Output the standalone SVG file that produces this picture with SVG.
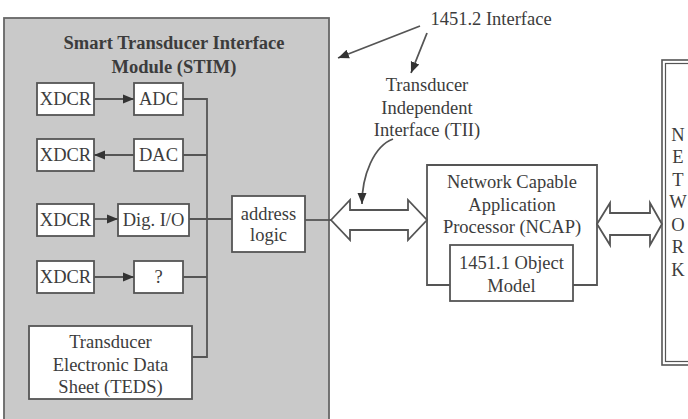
<svg xmlns="http://www.w3.org/2000/svg" width="688" height="419" viewBox="0 0 688 419">
<defs>
<style>
text{font-family:"Liberation Serif","Times New Roman",serif;font-size:18.5px;fill:#3c3c3c;text-anchor:middle}
.b{font-weight:bold}
.box{fill:#fff;stroke:#555;stroke-width:1.8}
.ln{fill:none;stroke:#555;stroke-width:1.8}
.dbl{fill:#fff;stroke:#555;stroke-width:1.8;stroke-linejoin:miter}
</style>
<marker id="ah" markerUnits="userSpaceOnUse" markerWidth="12" markerHeight="12" viewBox="0 0 12 12" refX="11" refY="6" orient="auto">
<path d="M0,1.5 L11,6 L0,10.5 Z" fill="#333"/>
</marker>
</defs>
<rect width="688" height="419" fill="#fff"/>
<g id="stim">
<rect x="4" y="18" width="325" height="410" fill="#c9c9c9" stroke="#666" stroke-width="1.8"/>
<text class="b" x="174" y="49" font-size="19">Smart Transducer Interface</text>
<text class="b" x="174" y="73" font-size="19">Module (STIM)</text>
</g>
<g id="xdcr1"><rect class="box" x="37" y="83" width="57" height="32"/><text x="65.5" y="105">XDCR</text></g>
<g id="adc"><rect class="box" x="134" y="83" width="49" height="32"/><text x="158.5" y="105">ADC</text></g>
<g id="xdcr2"><rect class="box" x="37" y="139" width="57" height="32"/><text x="65.5" y="161">XDCR</text></g>
<g id="dac"><rect class="box" x="134" y="139" width="49" height="32"/><text x="158.5" y="161">DAC</text></g>
<g id="xdcr3"><rect class="box" x="37" y="204" width="57" height="32"/><text x="65.5" y="226">XDCR</text></g>
<g id="digio"><rect class="box" x="118" y="204" width="71" height="32"/><text x="153.5" y="226">Dig. I/O</text></g>
<g id="xdcr4"><rect class="box" x="37" y="261" width="57" height="32"/><text x="65.5" y="283">XDCR</text></g>
<g id="unknown"><rect class="box" x="134" y="261" width="49" height="32"/><text x="158.5" y="283">?</text></g>
<g id="teds"><rect class="box" x="29" y="326" width="163" height="73"/>
<text x="110.5" y="348">Transducer</text><text x="110.5" y="371">Electronic Data</text><text x="110.5" y="393">Sheet (TEDS)</text></g>
<g id="address"><rect class="box" x="232" y="196" width="73" height="56"/>
<text x="268.5" y="220">address</text><text x="268.5" y="241">logic</text></g>
<g id="ncap">
<path class="ln" d="M450,285 H427 V165 H597 V285 H573" fill="#fff"/>
<text x="512" y="188">Network Capable</text>
<text x="512" y="211">Application</text>
<text x="512" y="233">Processor (NCAP)</text>
</g>
<g id="objmodel"><rect class="box" x="450" y="245" width="123" height="56"/>
<text x="511.5" y="269">1451.1 Object</text><text x="511.5" y="292">Model</text></g>
<g id="network">
<rect x="662" y="60" width="40" height="305" fill="#fff" stroke="#555" stroke-width="1.6"/>
<rect x="665.5" y="63.5" width="40" height="298" fill="none" stroke="#555" stroke-width="1.2"/>
<text x="678" y="141">N</text><text x="678" y="163">E</text><text x="678" y="186">T</text><text x="678" y="208">W</text>
<text x="678" y="231">O</text><text x="678" y="253">R</text><text x="678" y="276">K</text>
</g>
<g id="labels">
<text x="491" y="25">1451.2 Interface</text>
<text x="427" y="91">Transducer</text>
<text x="427" y="114">Independent</text>
<text x="427" y="136">Interface (TII)</text>
</g>
<g id="connectors">
<line class="ln" x1="94" y1="99" x2="134" y2="99" marker-end="url(#ah)"/>
<line class="ln" x1="134" y1="155" x2="94" y2="155" marker-end="url(#ah)"/>
<line class="ln" x1="94" y1="219" x2="118" y2="219" marker-end="url(#ah)"/>
<line class="ln" x1="94" y1="277" x2="134" y2="277" marker-end="url(#ah)"/>
<path class="ln" d="M183,99 H207 V357 H192 M183,155 H207 M189,219 H232 M183,277 H207"/>
<line class="ln" x1="305" y1="220" x2="331" y2="220"/>
<polygon class="dbl" points="331,220 350,200 350,210 408,210 408,200 427,220 408,240 408,230 350,230 350,240"/>
<polygon class="dbl" points="597,224 610,203 610,213 650,213 650,203 662,224 650,245 650,235 610,235 610,245"/>
<line class="ln" x1="420" y1="26" x2="338" y2="58" marker-end="url(#ah)"/>
<line class="ln" x1="427" y1="33" x2="411" y2="73" marker-end="url(#ah)"/>
<path class="ln" d="M393,139 C374,146 362,175 362,204" marker-end="url(#ah)"/>
</g>
</svg>
